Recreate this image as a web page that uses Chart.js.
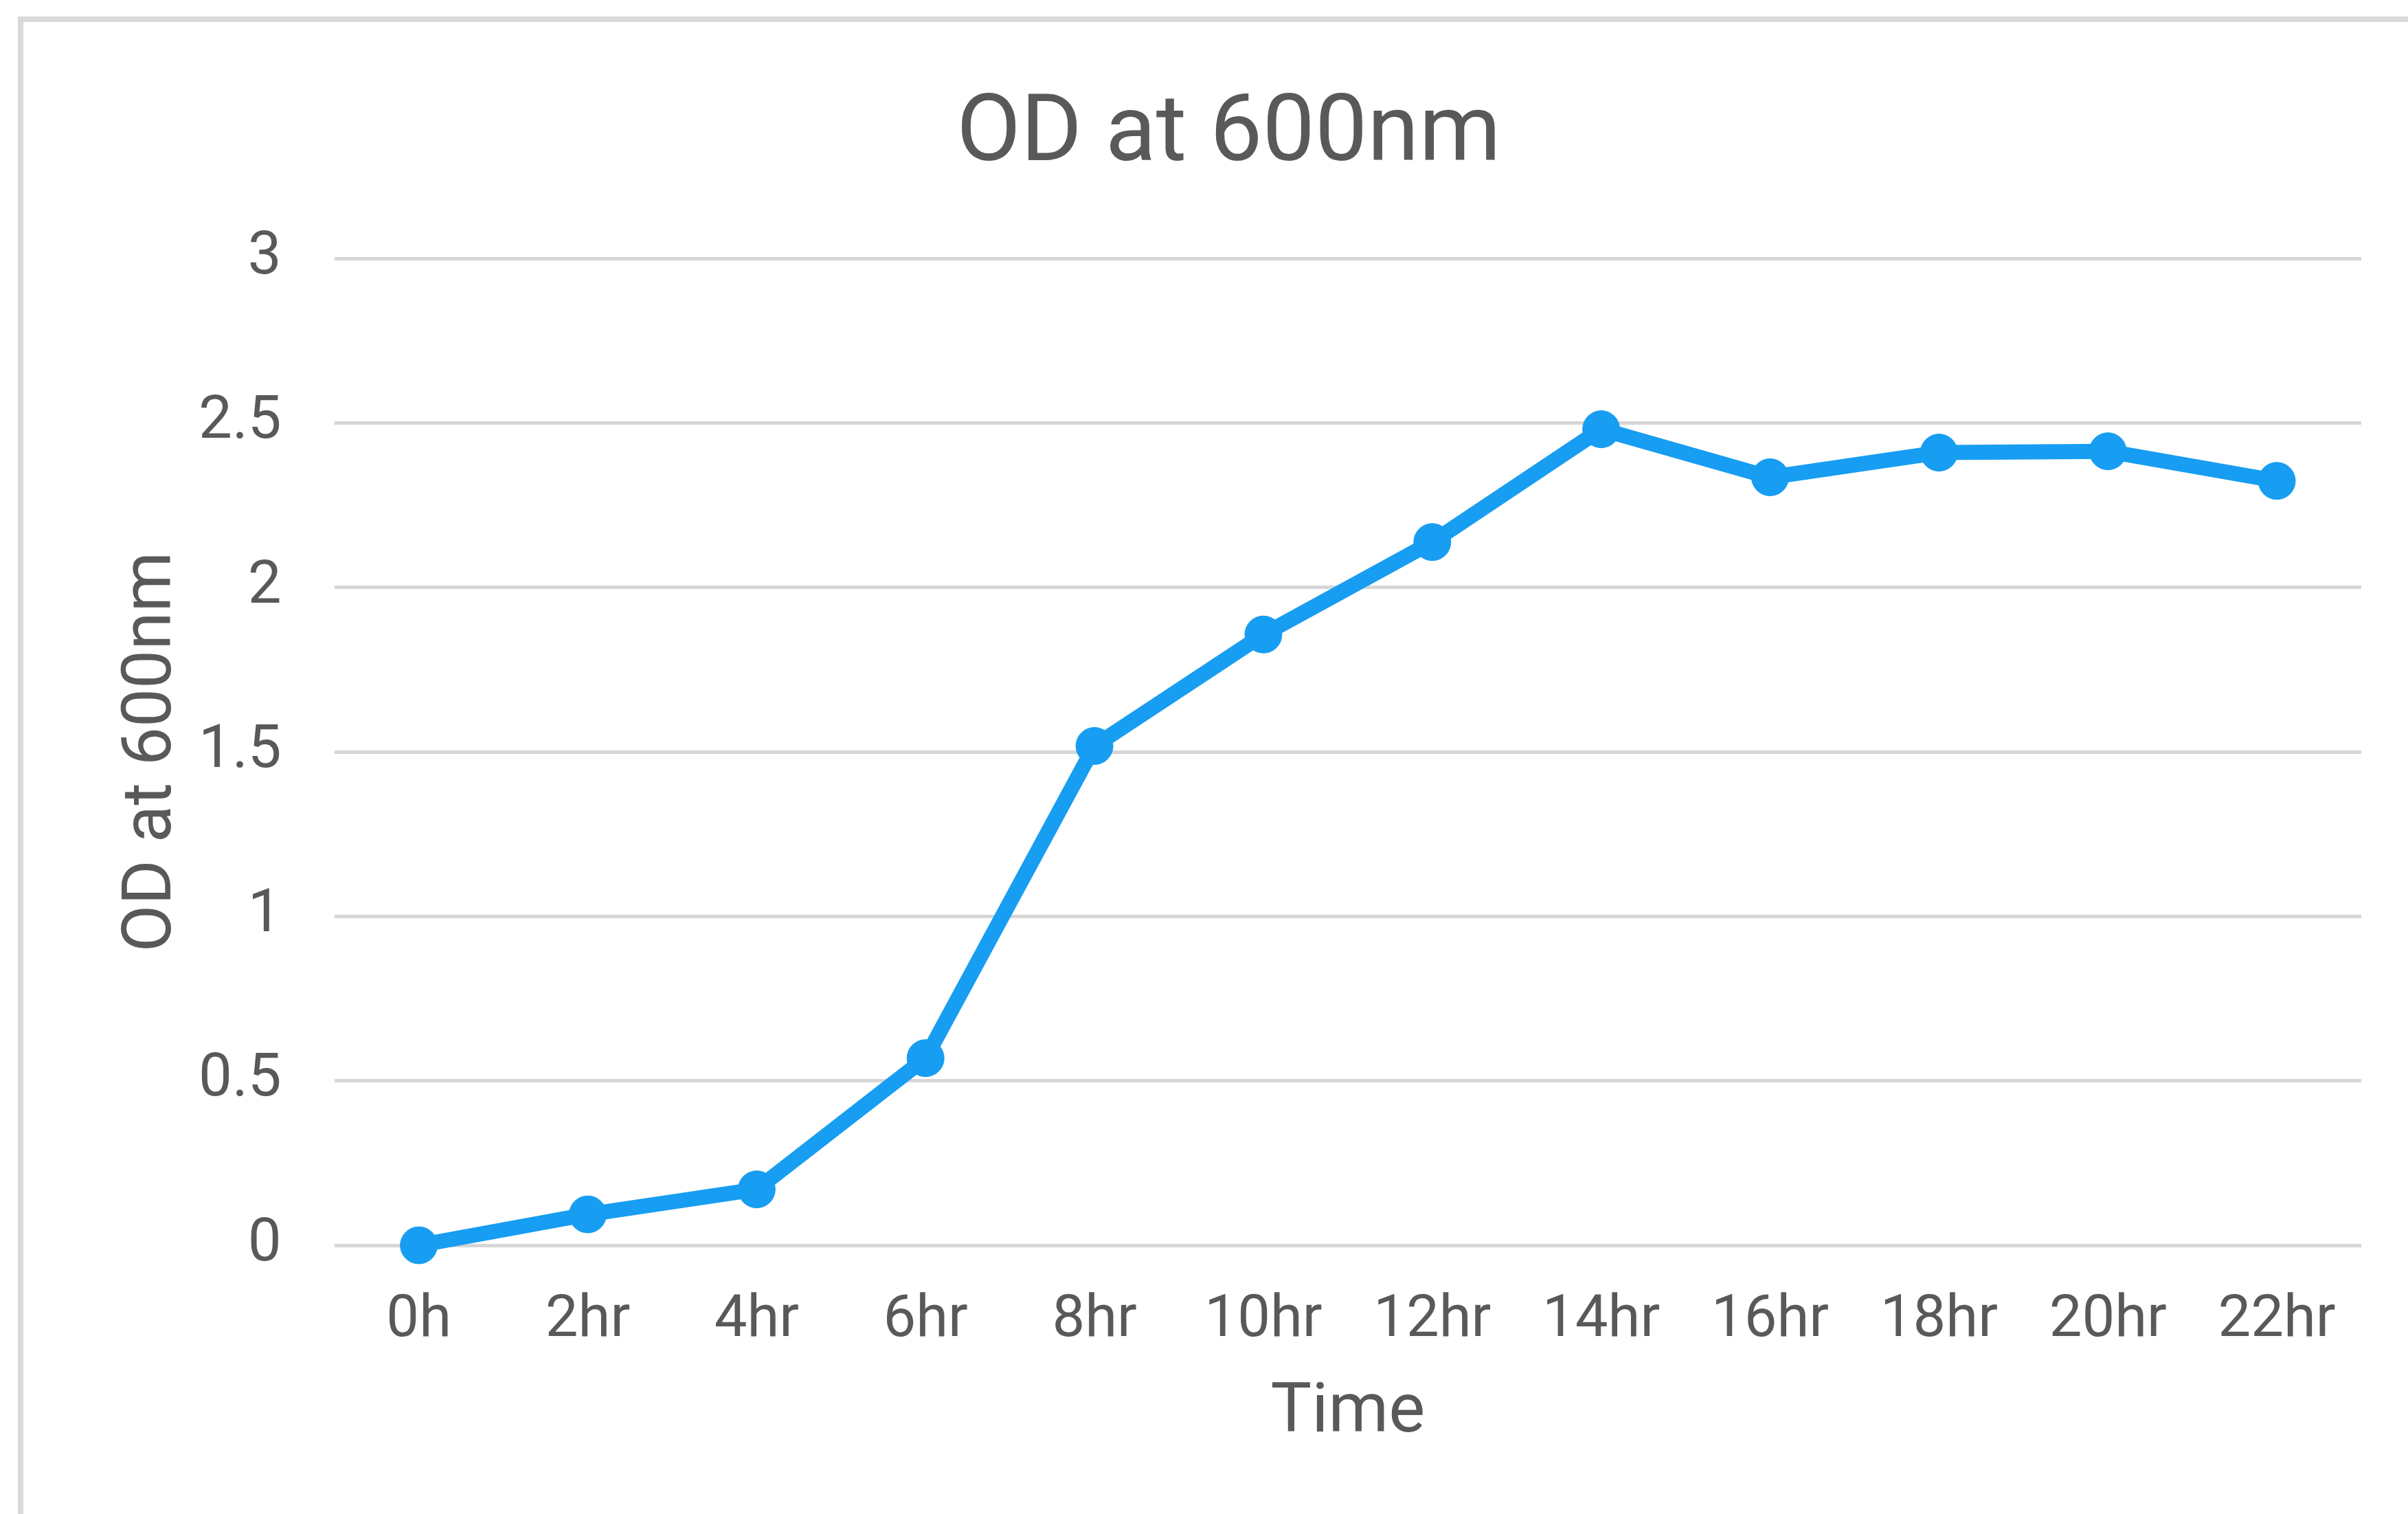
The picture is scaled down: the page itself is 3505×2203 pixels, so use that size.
<!DOCTYPE html>
<html>
<head>
<meta charset="utf-8">
<script src="https://cdn.jsdelivr.net/npm/chart.js@4/dist/chart.umd.min.js"></script>
<style>
  html, body { margin: 0; padding: 0; background: #ffffff; overflow: hidden; }
  #wrap { position: relative; width: 3505px; height: 2203px; overflow: hidden; background: #ffffff; }
  #frame { position: absolute; left: 26px; top: 24px; width: 4000px; height: 3000px; border: 8px solid #d9d9d9; box-sizing: border-box; }
  #c { position: absolute; left: 0; top: 0; }
</style>
</head>
<body>
<div id="wrap">
  <div id="frame"></div>
  <canvas id="c" width="3505" height="2203"></canvas>
</div>
<script>
const chartTitle = "OD at 600nm";
const xAxisTitle = "Time";
const yAxisTitle = "OD at 600nm";
const categories = ["0h", "2hr", "4hr", "6hr", "8hr", "10hr", "12hr", "14hr", "16hr", "18hr", "20hr", "22hr"];
const odValues = [0.00, 0.094, 0.170, 0.569, 1.518, 1.857, 2.138, 2.481, 2.335, 2.410, 2.414, 2.324];
const yTickValues = [0, 0.5, 1, 1.5, 2, 2.5, 3];
const yTickLabels = ["0", "0.5", "1", "1.5", "2", "2.5", "3"];

const textColor = "#595959";
const lineColor = "#179DF1";
const gridColor = "#d6d6d6";

new Chart(document.getElementById("c"), {
  type: "line",
  data: {
    labels: categories,
    datasets: [{
      label: yAxisTitle,
      data: odValues,
      borderColor: lineColor,
      backgroundColor: lineColor,
      borderWidth: 22,
      pointRadius: 27,
      pointBorderWidth: 1,
      pointBackgroundColor: lineColor,
      pointBorderColor: lineColor,
      tension: 0,
      fill: false,
      clip: false
    }]
  },
  options: {
    responsive: false,
    devicePixelRatio: 1,
    animation: false,
    layout: { padding: { left: 140, right: 68, top: 0, bottom: 85 } },
    plugins: {
      legend: { display: false },
      tooltip: { enabled: false },
      title: {
        display: true,
        text: chartTitle,
        color: textColor,
        font: { family: "Roboto", size: 136, weight: "normal", lineHeight: 1.2 },
        padding: { top: 117, bottom: 96 }
      }
    },
    scales: {
      x: {
        offset: true,
        grid: { display: true, color: "rgba(0,0,0,0)", drawTicks: true, tickLength: 60, tickColor: "rgba(0,0,0,0)" },
        border: { display: false },
        ticks: {
          color: textColor,
          font: { family: "Roboto", size: 85, lineHeight: 1.2 },
          padding: 0,
          maxRotation: 0,
          autoSkip: false
        },
        title: {
          display: true,
          text: xAxisTitle,
          color: textColor,
          font: { family: "Roboto", size: 100, lineHeight: 1.2 },
          padding: { top: 24, bottom: 0 }
        }
      },
      y: {
        min: 0,
        max: 3,
        afterBuildTicks: (axis) => { axis.ticks = yTickValues.map(v => ({ value: v })); },
        grid: { color: gridColor, lineWidth: 5, drawTicks: true, tickLength: 77, tickColor: "rgba(0,0,0,0)" },
        border: { display: false },
        ticks: {
          color: textColor,
          font: { family: "Roboto", size: 87, lineHeight: 1.2 },
          padding: 0,
          callback: (value) => {
            const i = yTickValues.indexOf(value);
            return i >= 0 ? yTickLabels[i] : "";
          }
        },
        title: {
          display: true,
          text: yAxisTitle,
          color: textColor,
          font: { family: "Roboto", size: 100, lineHeight: 1.2 },
          padding: { top: 23, bottom: 6 }
        }
      }
    }
  }
});
</script>
</body>
</html>
